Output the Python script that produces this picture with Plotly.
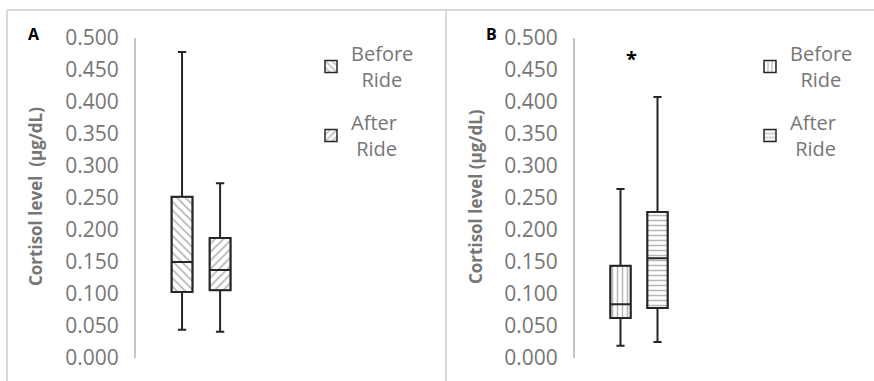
import plotly.graph_objects as go

# ---- data ----
groups = ["Before Ride", "After Ride"]
a_upper = [0.478, 0.273]
a_q3 = [0.252, 0.1875]
a_median = [0.150, 0.1375]
a_q1 = [0.103, 0.106]
a_lower = [0.044, 0.041]

b_upper = [0.264, 0.408]
b_q3 = [0.144, 0.228]
b_median = [0.084, 0.156]
b_q1 = [0.0625, 0.078]
b_lower = [0.019, 0.025]

y_ticks = [0.0, 0.05, 0.1, 0.15, 0.2, 0.25, 0.3, 0.35, 0.4, 0.45, 0.5]
legend_text = ["Before<br>&nbsp;&nbsp;Ride", "After<br>&nbsp;Ride"]
patterns_a = ["\\", "/"]
patterns_b = ["|", "-"]
positions = [1, 2]

W, H = 874, 381
GRAY = "#767676"
DARK = "#262626"

fig = go.Figure()

def add_panel(xa, ya, upper, q3, med, q1, lower, pats, legend_name, psize):
    for i in range(2):
        fig.add_trace(go.Bar(
            x=[positions[i]], y=[q3[i] - q1[i]], base=[q1[i]],
            width=0.55, name=legend_text[i], legend=legend_name,
            legendgroup=legend_name + str(i),
            marker=dict(color="white",
                        line=dict(color=DARK, width=1.5),
                        pattern=dict(shape=pats[i], fgcolor="#6e6e6e",
                                     bgcolor="white", size=psize, solidity=0.3)),
            xaxis=xa, yaxis=ya, hoverinfo="skip"))
    for i in range(2):
        fig.add_trace(go.Box(
            x=[positions[i]], q1=[q1[i]], median=[med[i]], q3=[q3[i]],
            lowerfence=[lower[i]], upperfence=[upper[i]],
            width=0.55, whiskerwidth=0.4,
            fillcolor="rgba(0,0,0,0)", line=dict(color=DARK, width=2),
            showlegend=False, xaxis=xa, yaxis=ya, name=groups[i]))

add_panel("x", "y", a_upper, a_q3, a_median, a_q1, a_lower, patterns_a, "legend", 6)
add_panel("x2", "y2", b_upper, b_q3, b_median, b_q1, b_lower, patterns_b, "legend2", 5)

y0 = 1 - 358 / H
y1 = 1 - 38 / H

yax = dict(range=[0, 0.5], tickvals=y_ticks, tickformat=".3f",
           showline=True, linecolor="#c4c4c4", linewidth=2,
           showgrid=False, zeroline=False, ticks="",
           ticklabelstandoff=11, automargin=False,
           tickfont=dict(family="Open Sans", size=21, color=GRAY),
           domain=[y0, y1])
xax = dict(showline=False, showgrid=False, zeroline=False,
           showticklabels=False, ticks="", automargin=False)

legend_common = dict(font=dict(family="Open Sans", size=20, color=GRAY),
                     bgcolor="rgba(0,0,0,0)", tracegroupgap=14,
                     xanchor="left", yanchor="top", traceorder="grouped")

fig.update_layout(
    width=W, height=H, margin=dict(l=0, r=0, t=0, b=0, pad=0, autoexpand=False),
    paper_bgcolor="white", plot_bgcolor="white",
    barmode="overlay", boxmode="overlay",
    xaxis=dict(xax, domain=[136 / W, 300 / W], range=[-0.21, 4.1], anchor="y"),
    yaxis=dict(yax, anchor="x"),
    xaxis2=dict(xax, domain=[575 / W, 740 / W], range=[-0.23, 4.23], anchor="y2"),
    yaxis2=dict(yax, anchor="x2"),
    legend=dict(legend_common, x=311 / W, y=1 - 34 / H),
    legend2=dict(legend_common, x=750 / W, y=1 - 34 / H),
    font=dict(family="Open Sans"),
    showlegend=True,
)

title_text = ["Cortisol level  (µg/dL)", "Cortisol level (µg/dL)"]
for xpx, txt in [(35, title_text[0]), (475, title_text[1])]:
    fig.add_annotation(x=xpx / W, y=1 - 197 / H, xref="paper", yref="paper",
                       xanchor="center", yanchor="middle",
                       text="<b>" + txt + "</b>", textangle=-90, showarrow=False,
                       font=dict(family="Open Sans", size=17, color=GRAY))

for xpx, txt in [(34, "A"), (492, "B")]:
    fig.add_annotation(x=xpx / W, y=1 - 34 / H, xref="paper", yref="paper",
                       xanchor="center", yanchor="middle",
                       text="<b>" + txt + "</b>", showarrow=False,
                       font=dict(family="Open Sans", size=16, color="black"))

fig.add_annotation(x=1.31, y=0.468, xref="x2", yref="y2", text="<b>*</b>",
                   showarrow=False,
                   font=dict(family="Open Sans", size=20, color="black"))

# panel frame lines
line_style = dict(color="#d9d9d9", width=2)
fig.add_shape(type="line", xref="paper", yref="paper",
              x0=7 / W, x1=1, y0=1 - 10 / H, y1=1 - 10 / H, line=line_style)
fig.add_shape(type="line", xref="paper", yref="paper",
              x0=7 / W, x1=7 / W, y0=0, y1=1 - 10 / H, line=line_style)
fig.add_shape(type="line", xref="paper", yref="paper",
              x0=446 / W, x1=446 / W, y0=0, y1=1 - 10 / H, line=line_style)

fig.write_html("out.html", config={"displayModeBar": False},
               post_script="document.body.style.margin='0';")
